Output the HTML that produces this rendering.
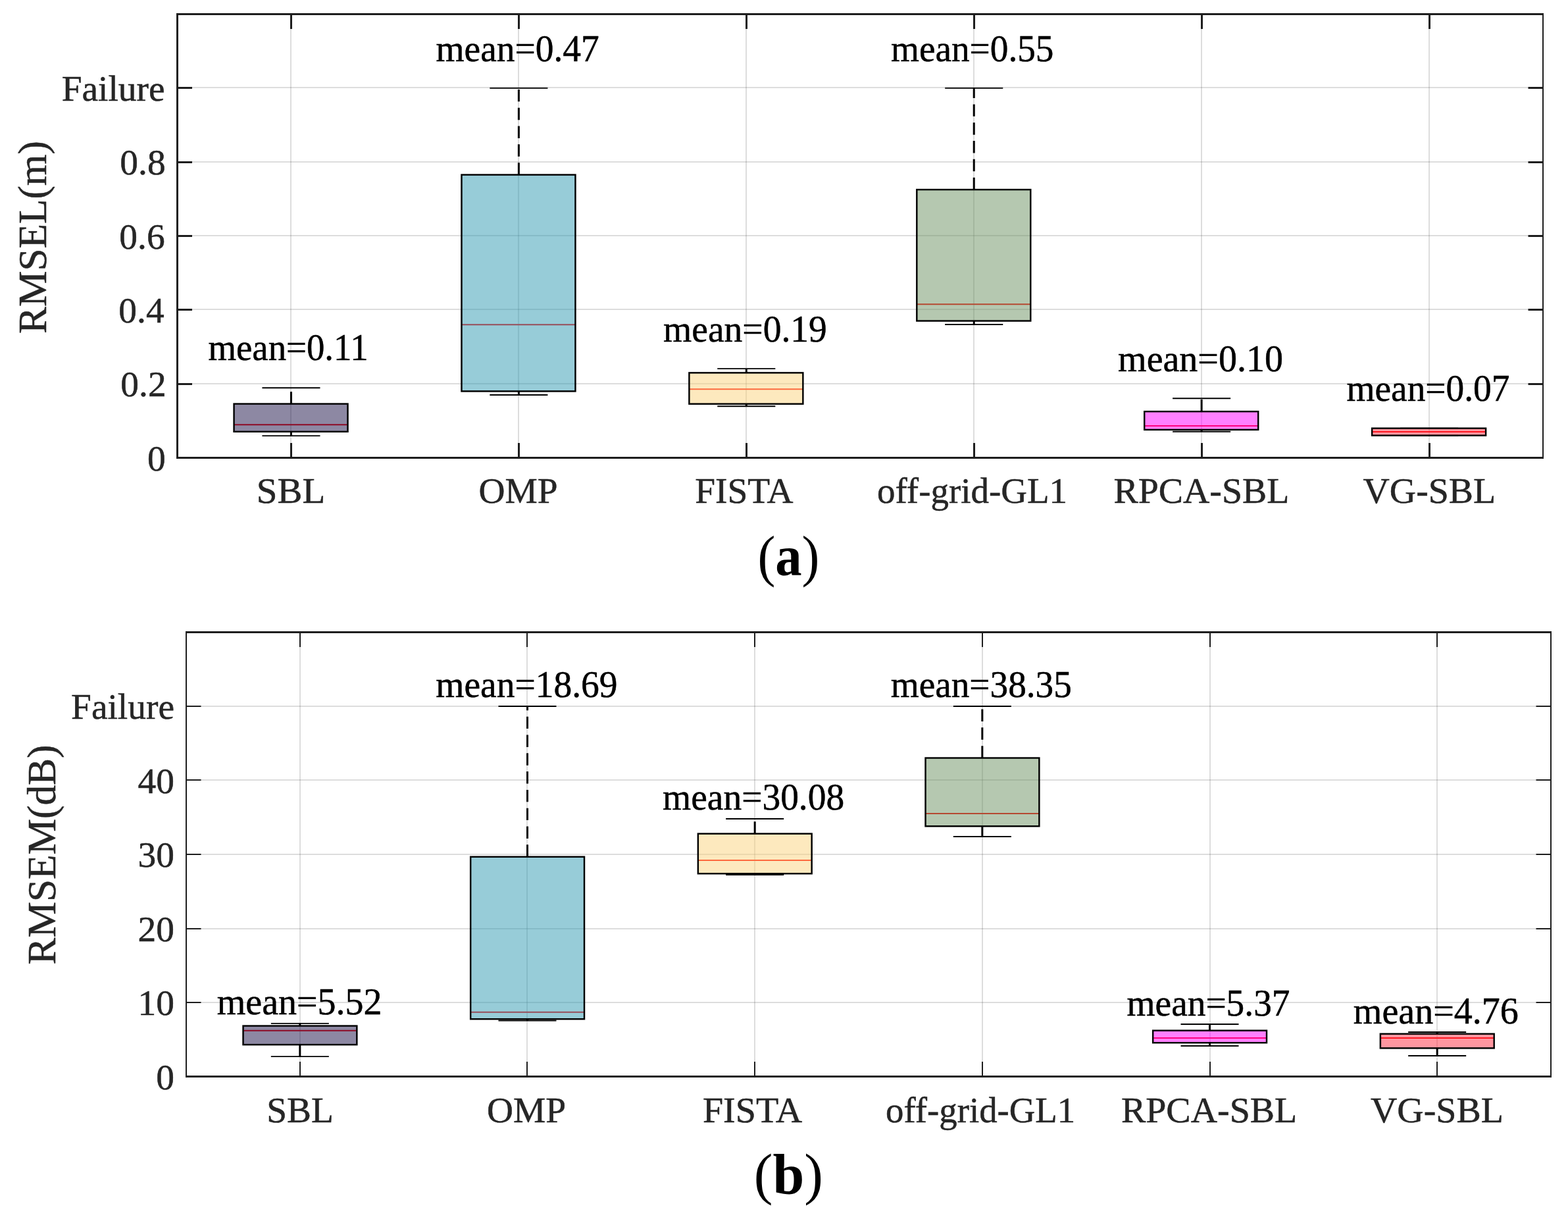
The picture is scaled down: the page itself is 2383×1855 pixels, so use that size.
<!DOCTYPE html>
<html><head><meta charset="utf-8"><title>Boxplots</title>
<style>
html,body{margin:0;padding:0;background:#fff;width:2383px;height:1855px;overflow:hidden;}
svg{display:block;}
text{font-family:"Liberation Serif", "Times New Roman", serif;}
.tk{font-size:55.4px;fill:#262626;stroke:#262626;stroke-width:0.5px;}
.mn{font-size:56px;fill:#000;stroke:#000;stroke-width:0.5px;}
.yl{font-size:61.3px;fill:#262626;stroke:#262626;stroke-width:0.5px;}
.tag{font-size:86px;fill:#000;}
</style></head><body>
<svg width="2383" height="1855" viewBox="0 0 2383 1855">
<rect width="2383" height="1855" fill="#ffffff"/>
<rect x="269.50" y="582" width="2075.50" height="2" fill="#262626" fill-opacity="0.155"/>
<rect x="269.50" y="469" width="2075.50" height="2" fill="#262626" fill-opacity="0.155"/>
<rect x="269.50" y="357" width="2075.50" height="2" fill="#262626" fill-opacity="0.155"/>
<rect x="269.50" y="245" width="2075.50" height="2" fill="#262626" fill-opacity="0.155"/>
<rect x="269.50" y="132" width="2075.50" height="2" fill="#262626" fill-opacity="0.155"/>
<rect x="441" y="21.50" width="2" height="674.00" fill="#262626" fill-opacity="0.155"/>
<rect x="787" y="21.50" width="2" height="674.00" fill="#262626" fill-opacity="0.155"/>
<rect x="1133" y="21.50" width="2" height="674.00" fill="#262626" fill-opacity="0.155"/>
<rect x="1479" y="21.50" width="2" height="674.00" fill="#262626" fill-opacity="0.155"/>
<rect x="1825" y="21.50" width="2" height="674.00" fill="#262626" fill-opacity="0.155"/>
<rect x="2171" y="21.50" width="2" height="674.00" fill="#262626" fill-opacity="0.155"/>
<line x1="442.46" y1="613.55" x2="442.46" y2="589.18" stroke="#000" stroke-width="3.0" stroke-dasharray="18.4 9.4"/>
<line x1="442.46" y1="655.79" x2="442.46" y2="662.08" stroke="#000" stroke-width="3.0" stroke-dasharray="18.4 9.4"/>
<line x1="398.42" y1="589.18" x2="486.50" y2="589.18" stroke="#000" stroke-width="1.9"/>
<line x1="398.42" y1="662.08" x2="486.50" y2="662.08" stroke="#000" stroke-width="1.9"/>
<line x1="355.56" y1="645.17" x2="528.52" y2="645.17" stroke="#ff0000" stroke-width="2"/>
<rect x="355.56" y="613.55" width="172.96" height="42.24" fill="rgb(27, 17, 71)" fill-opacity="0.5" stroke="#000" stroke-width="2.45"/>
<line x1="788.38" y1="265.54" x2="788.38" y2="133.83" stroke="#000" stroke-width="3.0" stroke-dasharray="18.4 9.4"/>
<line x1="788.38" y1="594.40" x2="788.38" y2="600.02" stroke="#000" stroke-width="3.0" stroke-dasharray="18.4 9.4"/>
<line x1="744.34" y1="133.83" x2="832.41" y2="133.83" stroke="#000" stroke-width="1.9"/>
<line x1="744.34" y1="600.02" x2="832.41" y2="600.02" stroke="#000" stroke-width="1.9"/>
<line x1="701.48" y1="493.13" x2="874.43" y2="493.13" stroke="#ff0000" stroke-width="2"/>
<rect x="701.48" y="265.54" width="172.96" height="328.86" fill="rgb(47, 153, 177)" fill-opacity="0.5" stroke="#000" stroke-width="2.45"/>
<line x1="1134.29" y1="566.37" x2="1134.29" y2="560.14" stroke="#000" stroke-width="3.0" stroke-dasharray="18.4 9.4"/>
<line x1="1134.29" y1="613.67" x2="1134.29" y2="617.20" stroke="#000" stroke-width="3.0" stroke-dasharray="18.4 9.4"/>
<line x1="1090.25" y1="560.14" x2="1178.33" y2="560.14" stroke="#000" stroke-width="1.9"/>
<line x1="1090.25" y1="617.20" x2="1178.33" y2="617.20" stroke="#000" stroke-width="1.9"/>
<line x1="1047.39" y1="591.20" x2="1220.35" y2="591.20" stroke="#ff0000" stroke-width="2"/>
<rect x="1047.39" y="566.37" width="172.96" height="47.29" fill="rgb(251, 211, 125)" fill-opacity="0.5" stroke="#000" stroke-width="2.45"/>
<line x1="1480.21" y1="288.07" x2="1480.21" y2="133.83" stroke="#000" stroke-width="3.0" stroke-dasharray="18.4 9.4"/>
<line x1="1480.21" y1="487.51" x2="1480.21" y2="493.02" stroke="#000" stroke-width="3.0" stroke-dasharray="18.4 9.4"/>
<line x1="1436.17" y1="133.83" x2="1524.25" y2="133.83" stroke="#000" stroke-width="1.9"/>
<line x1="1436.17" y1="493.02" x2="1524.25" y2="493.02" stroke="#000" stroke-width="1.9"/>
<line x1="1393.31" y1="462.13" x2="1566.27" y2="462.13" stroke="#ff0000" stroke-width="2"/>
<rect x="1393.31" y="288.07" width="172.96" height="199.45" fill="rgb(107, 145, 97)" fill-opacity="0.5" stroke="#000" stroke-width="2.45"/>
<line x1="1826.12" y1="625.18" x2="1826.12" y2="605.18" stroke="#000" stroke-width="3.0" stroke-dasharray="18.4 9.4"/>
<line x1="1826.12" y1="652.87" x2="1826.12" y2="655.79" stroke="#000" stroke-width="3.0" stroke-dasharray="18.4 9.4"/>
<line x1="1782.09" y1="605.18" x2="1870.16" y2="605.18" stroke="#000" stroke-width="1.9"/>
<line x1="1782.09" y1="655.79" x2="1870.16" y2="655.79" stroke="#000" stroke-width="1.9"/>
<line x1="1739.23" y1="647.08" x2="1912.18" y2="647.08" stroke="#ff0000" stroke-width="2"/>
<rect x="1739.23" y="625.18" width="172.96" height="27.69" fill="rgb(255, 1, 255)" fill-opacity="0.5" stroke="#000" stroke-width="2.45"/>
<line x1="2128.00" y1="650.68" x2="2216.08" y2="650.68" stroke="#000" stroke-width="1.9"/>
<line x1="2128.00" y1="661.58" x2="2216.08" y2="661.58" stroke="#000" stroke-width="1.9"/>
<line x1="2085.14" y1="656.07" x2="2258.10" y2="656.07" stroke="#ff0000" stroke-width="2"/>
<rect x="2085.14" y="650.68" width="172.96" height="10.90" fill="rgb(255, 45, 65)" fill-opacity="0.5" stroke="#000" stroke-width="2.45"/>
<rect x="268.00" y="20.00" width="3.00" height="677.00" fill="#1e1e1e"/>
<rect x="2344.00" y="20.00" width="2.00" height="677.00" fill="#1e1e1e"/>
<rect x="268.00" y="20.00" width="2078.00" height="3.00" fill="#1e1e1e"/>
<rect x="268.00" y="694.00" width="2078.00" height="3.00" fill="#1e1e1e"/>
<rect x="269.50" y="694" width="22.50" height="3" fill="#1e1e1e"/>
<rect x="2322.50" y="694" width="22.50" height="3" fill="#1e1e1e"/>
<rect x="269.50" y="582" width="22.50" height="3" fill="#1e1e1e"/>
<rect x="2322.50" y="582" width="22.50" height="3" fill="#1e1e1e"/>
<rect x="269.50" y="469" width="22.50" height="3" fill="#1e1e1e"/>
<rect x="2322.50" y="469" width="22.50" height="3" fill="#1e1e1e"/>
<rect x="269.50" y="357" width="22.50" height="3" fill="#1e1e1e"/>
<rect x="2322.50" y="357" width="22.50" height="3" fill="#1e1e1e"/>
<rect x="269.50" y="245" width="22.50" height="3" fill="#1e1e1e"/>
<rect x="2322.50" y="245" width="22.50" height="3" fill="#1e1e1e"/>
<rect x="269.50" y="132" width="22.50" height="3" fill="#1e1e1e"/>
<rect x="2322.50" y="132" width="22.50" height="3" fill="#1e1e1e"/>
<rect x="441" y="21.50" width="3" height="22.50" fill="#1e1e1e"/>
<rect x="441" y="673.00" width="3" height="22.50" fill="#1e1e1e"/>
<rect x="787" y="21.50" width="3" height="22.50" fill="#1e1e1e"/>
<rect x="787" y="673.00" width="3" height="22.50" fill="#1e1e1e"/>
<rect x="1133" y="21.50" width="3" height="22.50" fill="#1e1e1e"/>
<rect x="1133" y="673.00" width="3" height="22.50" fill="#1e1e1e"/>
<rect x="1479" y="21.50" width="3" height="22.50" fill="#1e1e1e"/>
<rect x="1479" y="673.00" width="3" height="22.50" fill="#1e1e1e"/>
<rect x="1825" y="21.50" width="3" height="22.50" fill="#1e1e1e"/>
<rect x="1825" y="673.00" width="3" height="22.50" fill="#1e1e1e"/>
<rect x="2171" y="21.50" width="3" height="22.50" fill="#1e1e1e"/>
<rect x="2171" y="673.00" width="3" height="22.50" fill="#1e1e1e"/>
<text id="yta0" class="tk" text-anchor="end" x="251.60" y="714.50">0</text>
<text id="yta1" class="tk" text-anchor="end" x="252.60" y="602.17">0.2</text>
<text id="yta2" class="tk" text-anchor="end" x="249.60" y="489.83">0.4</text>
<text id="yta3" class="tk" text-anchor="end" x="250.60" y="377.50">0.6</text>
<text id="yta4" class="tk" text-anchor="end" x="251.60" y="265.17">0.8</text>
<text id="yta5" class="tk" text-anchor="end" x="250.60" y="152.83">Failure</text>
<text id="xta0" class="tk" text-anchor="middle" transform="translate(442.11,764.40) scale(1.0284,1)">SBL</text>
<text id="xta1" class="tk" text-anchor="middle" x="787.52" y="764.40">OMP</text>
<text id="xta2" class="tk" text-anchor="middle" x="1130.89" y="764.40">FISTA</text>
<text id="xta3" class="tk" text-anchor="middle" transform="translate(1477.50,764.40) scale(0.9916,1)">off-grid-GL1</text>
<text id="xta4" class="tk" text-anchor="middle" transform="translate(1825.93,764.40) scale(1.0084,1)">RPCA-SBL</text>
<text id="xta5" class="tk" text-anchor="middle" transform="translate(2172.35,764.40) scale(1.0081,1)">VG-SBL</text>
<text id="mna0" class="mn" text-anchor="middle" transform="translate(438.09,547.00) scale(0.9784,1)">mean=0.11</text>
<text id="mna1" class="mn" text-anchor="middle" transform="translate(786.58,92.90) scale(0.9903,1)">mean=0.47</text>
<text id="mna2" class="mn" text-anchor="middle" transform="translate(1132.44,519.00) scale(0.9915,1)">mean=0.19</text>
<text id="mna3" class="mn" text-anchor="middle" transform="translate(1477.71,92.90) scale(0.9871,1)">mean=0.55</text>
<text id="mna4" class="mn" text-anchor="middle" x="1824.53" y="563.80">mean=0.10</text>
<text id="mna5" class="mn" text-anchor="middle" transform="translate(2170.43,609.00) scale(0.9888,1)">mean=0.07</text>
<text id="yla" class="yl" text-anchor="middle" transform="translate(70.30,360.50) rotate(-90)">RMSEL(m)</text>
<text id="tga" class="tag" text-anchor="middle" transform="translate(1198.40,873.90) scale(0.9376,1)">(<tspan font-weight="bold">a</tspan>)</text>
<rect x="283.00" y="1522" width="2074.00" height="2" fill="#262626" fill-opacity="0.155"/>
<rect x="283.00" y="1410" width="2074.00" height="2" fill="#262626" fill-opacity="0.155"/>
<rect x="283.00" y="1297" width="2074.00" height="2" fill="#262626" fill-opacity="0.155"/>
<rect x="283.00" y="1184" width="2074.00" height="2" fill="#262626" fill-opacity="0.155"/>
<rect x="283.00" y="1072" width="2074.00" height="2" fill="#262626" fill-opacity="0.155"/>
<rect x="455" y="960.50" width="2" height="675.00" fill="#262626" fill-opacity="0.155"/>
<rect x="800" y="960.50" width="2" height="675.00" fill="#262626" fill-opacity="0.155"/>
<rect x="1146" y="960.50" width="2" height="675.00" fill="#262626" fill-opacity="0.155"/>
<rect x="1492" y="960.50" width="2" height="675.00" fill="#262626" fill-opacity="0.155"/>
<rect x="1838" y="960.50" width="2" height="675.00" fill="#262626" fill-opacity="0.155"/>
<rect x="2183" y="960.50" width="2" height="675.00" fill="#262626" fill-opacity="0.155"/>
<line x1="455.83" y1="1558.55" x2="455.83" y2="1554.84" stroke="#000" stroke-width="3.0" stroke-dasharray="18.4 9.4"/>
<line x1="455.83" y1="1587.12" x2="455.83" y2="1605.12" stroke="#000" stroke-width="3.0" stroke-dasharray="18.4 9.4"/>
<line x1="411.83" y1="1554.84" x2="499.84" y2="1554.84" stroke="#000" stroke-width="1.9"/>
<line x1="411.83" y1="1605.12" x2="499.84" y2="1605.12" stroke="#000" stroke-width="1.9"/>
<line x1="369.52" y1="1565.75" x2="542.35" y2="1565.75" stroke="#ff0000" stroke-width="2"/>
<rect x="369.52" y="1558.55" width="172.83" height="28.58" fill="rgb(27, 17, 71)" fill-opacity="0.5" stroke="#000" stroke-width="2.45"/>
<line x1="801.50" y1="1301.71" x2="801.50" y2="1073.00" stroke="#000" stroke-width="3.0" stroke-dasharray="18.4 9.4"/>
<line x1="801.50" y1="1548.20" x2="801.50" y2="1550.56" stroke="#000" stroke-width="3.0" stroke-dasharray="18.4 9.4"/>
<line x1="757.49" y1="1073.00" x2="845.51" y2="1073.00" stroke="#000" stroke-width="1.9"/>
<line x1="757.49" y1="1550.56" x2="845.51" y2="1550.56" stroke="#000" stroke-width="1.9"/>
<line x1="715.18" y1="1537.85" x2="888.02" y2="1537.85" stroke="#ff0000" stroke-width="2"/>
<rect x="715.18" y="1301.71" width="172.83" height="246.49" fill="rgb(47, 153, 177)" fill-opacity="0.5" stroke="#000" stroke-width="2.45"/>
<line x1="1147.17" y1="1266.61" x2="1147.17" y2="1244.00" stroke="#000" stroke-width="3.0" stroke-dasharray="18.4 9.4"/>
<line x1="1147.17" y1="1327.25" x2="1147.17" y2="1329.05" stroke="#000" stroke-width="3.0" stroke-dasharray="18.4 9.4"/>
<line x1="1103.16" y1="1244.00" x2="1191.18" y2="1244.00" stroke="#000" stroke-width="1.9"/>
<line x1="1103.16" y1="1329.05" x2="1191.18" y2="1329.05" stroke="#000" stroke-width="1.9"/>
<line x1="1060.85" y1="1306.89" x2="1233.68" y2="1306.89" stroke="#ff0000" stroke-width="2"/>
<rect x="1060.85" y="1266.61" width="172.83" height="60.64" fill="rgb(251, 211, 125)" fill-opacity="0.5" stroke="#000" stroke-width="2.45"/>
<line x1="1492.83" y1="1151.53" x2="1492.83" y2="1073.00" stroke="#000" stroke-width="3.0" stroke-dasharray="18.4 9.4"/>
<line x1="1492.83" y1="1255.25" x2="1492.83" y2="1271.00" stroke="#000" stroke-width="3.0" stroke-dasharray="18.4 9.4"/>
<line x1="1448.83" y1="1073.00" x2="1536.84" y2="1073.00" stroke="#000" stroke-width="1.9"/>
<line x1="1448.83" y1="1271.00" x2="1536.84" y2="1271.00" stroke="#000" stroke-width="1.9"/>
<line x1="1406.52" y1="1236.01" x2="1579.35" y2="1236.01" stroke="#ff0000" stroke-width="2"/>
<rect x="1406.52" y="1151.53" width="172.83" height="103.72" fill="rgb(107, 145, 97)" fill-opacity="0.5" stroke="#000" stroke-width="2.45"/>
<line x1="1838.50" y1="1565.64" x2="1838.50" y2="1555.96" stroke="#000" stroke-width="3.0" stroke-dasharray="18.4 9.4"/>
<line x1="1838.50" y1="1584.20" x2="1838.50" y2="1589.04" stroke="#000" stroke-width="3.0" stroke-dasharray="18.4 9.4"/>
<line x1="1794.49" y1="1555.96" x2="1882.51" y2="1555.96" stroke="#000" stroke-width="1.9"/>
<line x1="1794.49" y1="1589.04" x2="1882.51" y2="1589.04" stroke="#000" stroke-width="1.9"/>
<line x1="1752.18" y1="1577.00" x2="1925.02" y2="1577.00" stroke="#ff0000" stroke-width="2"/>
<rect x="1752.18" y="1565.64" width="172.83" height="18.56" fill="rgb(255, 1, 255)" fill-opacity="0.5" stroke="#000" stroke-width="2.45"/>
<line x1="2184.17" y1="1570.70" x2="2184.17" y2="1568.00" stroke="#000" stroke-width="3.0" stroke-dasharray="18.4 9.4"/>
<line x1="2184.17" y1="1592.41" x2="2184.17" y2="1604.00" stroke="#000" stroke-width="3.0" stroke-dasharray="18.4 9.4"/>
<line x1="2140.16" y1="1568.00" x2="2228.18" y2="1568.00" stroke="#000" stroke-width="1.9"/>
<line x1="2140.16" y1="1604.00" x2="2228.18" y2="1604.00" stroke="#000" stroke-width="1.9"/>
<line x1="2097.85" y1="1577.00" x2="2270.68" y2="1577.00" stroke="#ff0000" stroke-width="2"/>
<rect x="2097.85" y="1570.70" width="172.83" height="21.71" fill="rgb(255, 45, 65)" fill-opacity="0.5" stroke="#000" stroke-width="2.45"/>
<rect x="282.00" y="959.00" width="2.00" height="678.00" fill="#1e1e1e"/>
<rect x="2356.00" y="959.00" width="2.00" height="678.00" fill="#1e1e1e"/>
<rect x="282.00" y="959.00" width="2076.00" height="3.00" fill="#1e1e1e"/>
<rect x="282.00" y="1634.00" width="2076.00" height="3.00" fill="#1e1e1e"/>
<rect x="283.00" y="1634" width="22.50" height="2" fill="#1e1e1e"/>
<rect x="2334.50" y="1634" width="22.50" height="2" fill="#1e1e1e"/>
<rect x="283.00" y="1522" width="22.50" height="2" fill="#1e1e1e"/>
<rect x="2334.50" y="1522" width="22.50" height="2" fill="#1e1e1e"/>
<rect x="283.00" y="1410" width="22.50" height="2" fill="#1e1e1e"/>
<rect x="2334.50" y="1410" width="22.50" height="2" fill="#1e1e1e"/>
<rect x="283.00" y="1297" width="22.50" height="2" fill="#1e1e1e"/>
<rect x="2334.50" y="1297" width="22.50" height="2" fill="#1e1e1e"/>
<rect x="283.00" y="1184" width="22.50" height="2" fill="#1e1e1e"/>
<rect x="2334.50" y="1184" width="22.50" height="2" fill="#1e1e1e"/>
<rect x="283.00" y="1072" width="22.50" height="2" fill="#1e1e1e"/>
<rect x="2334.50" y="1072" width="22.50" height="2" fill="#1e1e1e"/>
<rect x="455" y="960.50" width="2" height="22.50" fill="#1e1e1e"/>
<rect x="455" y="1613.00" width="2" height="22.50" fill="#1e1e1e"/>
<rect x="800" y="960.50" width="2" height="22.50" fill="#1e1e1e"/>
<rect x="800" y="1613.00" width="2" height="22.50" fill="#1e1e1e"/>
<rect x="1146" y="960.50" width="2" height="22.50" fill="#1e1e1e"/>
<rect x="1146" y="1613.00" width="2" height="22.50" fill="#1e1e1e"/>
<rect x="1492" y="960.50" width="2" height="22.50" fill="#1e1e1e"/>
<rect x="1492" y="1613.00" width="2" height="22.50" fill="#1e1e1e"/>
<rect x="1838" y="960.50" width="2" height="22.50" fill="#1e1e1e"/>
<rect x="1838" y="1613.00" width="2" height="22.50" fill="#1e1e1e"/>
<rect x="2183" y="960.50" width="2" height="22.50" fill="#1e1e1e"/>
<rect x="2183" y="1613.00" width="2" height="22.50" fill="#1e1e1e"/>
<text id="ytb0" class="tk" text-anchor="end" x="265.00" y="1654.50">0</text>
<text id="ytb1" class="tk" text-anchor="end" x="265.00" y="1542.00">10</text>
<text id="ytb2" class="tk" text-anchor="end" x="265.00" y="1429.50">20</text>
<text id="ytb3" class="tk" text-anchor="end" x="265.00" y="1317.00">30</text>
<text id="ytb4" class="tk" text-anchor="end" x="265.00" y="1204.50">40</text>
<text id="ytb5" class="tk" text-anchor="end" x="265.00" y="1092.00">Failure</text>
<text id="xtb0" class="tk" text-anchor="middle" x="455.98" y="1704.50">SBL</text>
<text id="xtb1" class="tk" text-anchor="middle" x="800.05" y="1704.50">OMP</text>
<text id="xtb2" class="tk" text-anchor="middle" transform="translate(1143.51,1704.50) scale(1.0115,1)">FISTA</text>
<text id="xtb3" class="tk" text-anchor="middle" transform="translate(1490.17,1704.50) scale(0.9892,1)">off-grid-GL1</text>
<text id="xtb4" class="tk" text-anchor="middle" transform="translate(1837.61,1704.50) scale(1.0100,1)">RPCA-SBL</text>
<text id="xtb5" class="tk" text-anchor="middle" transform="translate(2183.88,1704.50) scale(1.0092,1)">VG-SBL</text>
<text id="mnb0" class="mn" text-anchor="middle" x="455.18" y="1540.80">mean=5.52</text>
<text id="mnb1" class="mn" text-anchor="middle" transform="translate(800.42,1059.20) scale(0.9911,1)">mean=18.69</text>
<text id="mnb2" class="mn" text-anchor="middle" transform="translate(1145.12,1230.40) scale(0.9902,1)">mean=30.08</text>
<text id="mnb3" class="mn" text-anchor="middle" transform="translate(1491.27,1059.20) scale(0.9873,1)">mean=38.35</text>
<text id="mnb4" class="mn" text-anchor="middle" transform="translate(1836.50,1543.00) scale(0.9888,1)">mean=5.37</text>
<text id="mnb5" class="mn" text-anchor="middle" x="2182.29" y="1554.90">mean=4.76</text>
<text id="ylb" class="yl" text-anchor="middle" transform="translate(83.60,1298.50) rotate(-90)">RMSEM(dB)</text>
<text id="tgb" class="tag" text-anchor="middle" x="1198.40" y="1813.10">(<tspan font-weight="bold">b</tspan>)</text>
</svg>
</body></html>
